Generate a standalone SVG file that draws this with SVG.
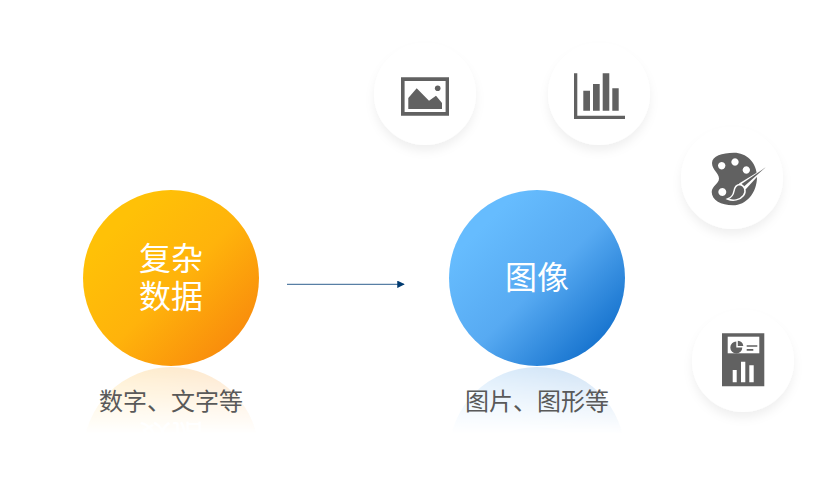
<svg xmlns="http://www.w3.org/2000/svg" width="838" height="501" viewBox="0 0 838 501">
<style>
.t{font-family:"Noto Sans CJK SC","Liberation Sans",sans-serif;text-anchor:middle}
.w{fill:#fff;font-size:32px}
.l{fill:#595959;font-size:24px}
.d{fill:#616161}
.p{fill:#fff}
.c{fill:#fff;filter:url(#sh)}
.conn{stroke:#2f5f8f;stroke-width:1;fill:none}
</style>
<defs>
<linearGradient id="go" x1="0.2" y1="0.2" x2="0.85" y2="0.85"><stop offset="0" stop-color="#ffc107"/><stop offset="0.5" stop-color="#ffb30b"/><stop offset="1" stop-color="#f98e0c"/></linearGradient>
<linearGradient id="gb" x1="0.2" y1="0.2" x2="0.85" y2="0.85"><stop offset="0" stop-color="#66bcfe"/><stop offset="0.5" stop-color="#57aaf2"/><stop offset="1" stop-color="#1a76d0"/></linearGradient>
<linearGradient id="fade" gradientUnits="userSpaceOnUse" x1="0" y1="367" x2="0" y2="434"><stop offset="0" stop-color="#fff" stop-opacity="0.2"/><stop offset="1" stop-color="#fff" stop-opacity="0"/></linearGradient>
<mask id="m" maskUnits="userSpaceOnUse" x="0" y="360" width="838" height="80"><rect x="0" y="360" width="838" height="80" fill="url(#fade)"/></mask>
<filter id="sh" x="-30%" y="-30%" width="160%" height="170%"><feDropShadow dx="0" dy="6" stdDeviation="5" flood-color="#000" flood-opacity="0.06"/></filter>
<marker id="arr" viewBox="0 0 10 10" refX="9" refY="5" markerWidth="7.5" markerHeight="7.5" markerUnits="userSpaceOnUse" orient="auto"><path d="M0 0L10 5L0 10Z" fill="#003a70"/></marker>
</defs>
<rect width="838" height="501" fill="#fff"/>
<g id="connectors"><path class="conn" d="M287 284.3H404" marker-end="url(#arr)"/></g>
<g id="reflections">
<g mask="url(#m)"><g transform="translate(0,733) scale(1,-1)"><circle cx="171" cy="278" r="88" fill="url(#go)"/><circle cx="537" cy="278" r="88" fill="url(#gb)"/><text class="t w" x="171" y="308">数据</text></g></g>
</g>
<g id="node-data">
<circle cx="171" cy="278" r="88" fill="url(#go)"/>
<text class="t w" x="171"><tspan x="171" y="270">复杂</tspan><tspan x="171" y="308">数据</tspan></text>
<text class="t l" x="171" y="410">数字、文字等</text>
</g>
<g id="node-image">
<circle cx="537" cy="278" r="88" fill="url(#gb)"/>
<text class="t w" x="537" y="289">图像</text>
<text class="t l" x="537" y="410">图片、图形等</text>
</g>
<g id="icon-picture">
<circle class="c" cx="425" cy="94" r="51"/>
<path class="d" fill-rule="evenodd" d="M401 77.3H449V115.7H401ZM404.6 81V112H445.6V81Z"/>
<path class="d" d="M408.3 109V98L416.7 88.3L429 100.7L436 95.7L442 103V109Z"/>
<circle class="d" cx="437.7" cy="88.3" r="2.8"/>
</g>
<g id="icon-chart">
<circle class="c" cx="599" cy="94" r="51"/>
<path class="d" d="M574 73.3H577.3V115.7H625V119H574Z"/>
<path class="d" d="M583.3 90.7H590V110.7H583.3ZM593 84H599.7V110.7H593ZM602.7 73.3H609.3V110.7H602.7ZM612.3 88.3H618.7V110.7H612.3Z"/>
</g>
<g id="icon-palette">
<circle class="c" cx="732" cy="178" r="51"/>
<path class="d" fill-rule="evenodd" d="M712 163C712 156 722 152.7 734 152.7C746 152.7 757 162 757 177C757 193 746 205.3 733 205.3C721 205.3 711.7 200 711.7 192C711.7 186 719 184 719 178.5C719 173 712 170 712 163ZM721.7 162a3.7 3.7 0 1 0 0.01 0ZM735 158.3a3.7 3.7 0 1 0 0.01 0ZM746.3 166.3a3.7 3.7 0 1 0 0.01 0ZM722.3 188a4 4 0 1 0 0.01 0Z"/>
<path class="p" d="M765.7 167.3L739 183.5L745.5 189.5Z"/>
<path class="d" d="M765.7 167.3L741.5 184L744 186.5Z"/>
<path class="d" stroke="#fff" stroke-width="1.5" d="M739.5 184.5C735.5 185 734.5 188 734 191C733.5 194 731.5 197.5 727.5 199C733 201.5 740 200 743.5 195.5C746.5 191.5 745 185.5 739.5 184.5Z"/>
</g>
<g id="icon-report">
<circle class="c" cx="743" cy="361" r="51"/>
<path class="d" d="M722 333.3H764.3V386.3H722Z"/>
<rect class="p" x="727.7" y="336.7" width="31.6" height="16.6"/>
<path class="d" d="M736.3 341.5V347.5H742.3A6 6 0 1 1 736.3 341.5ZM737.8 340.8A6 6 0 0 1 743.3 346H737.8Z"/>
<path class="d" d="M746.7 345.3H757.3V346.7H746.7ZM746.7 349H753.3V350.7H746.7Z"/>
<path class="p" d="M732.7 370H736.7V382.3H732.7ZM741 361.7H745.3V382.3H741ZM749.3 365.3H753.7V382.3H749.3Z"/>
</g>
</svg>
